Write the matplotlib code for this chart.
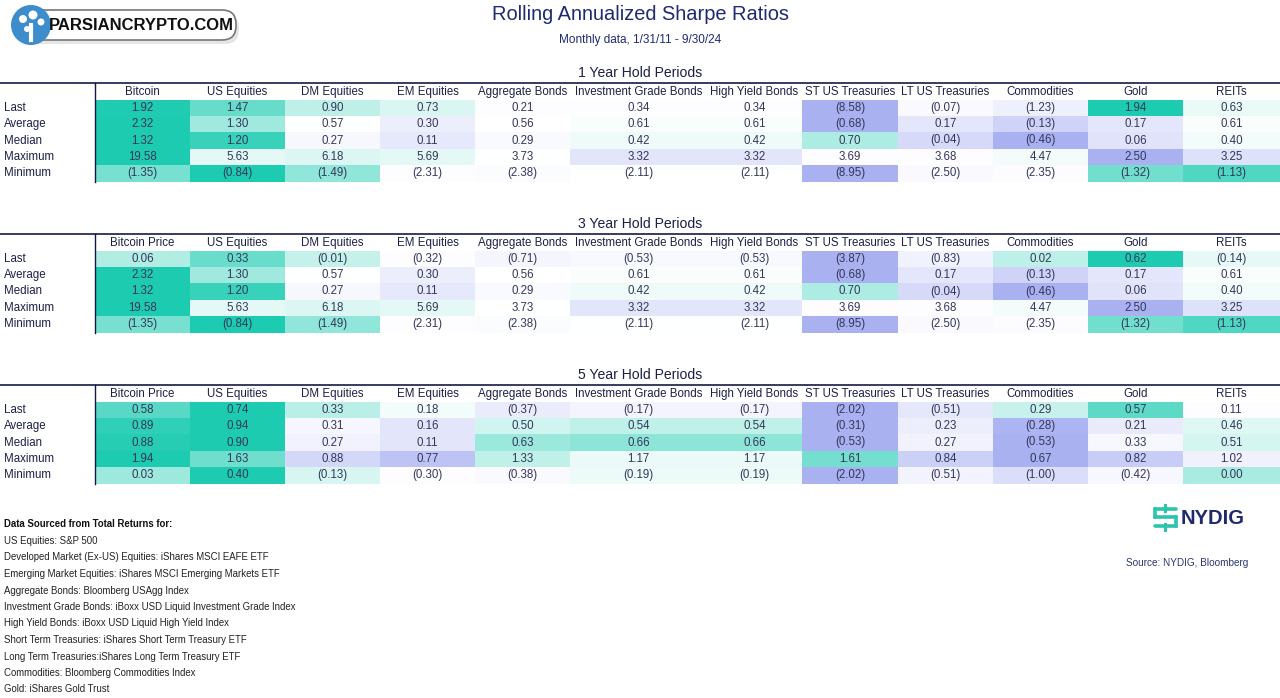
#!/usr/bin/env python3

import numpy as np
import matplotlib
matplotlib.use('Agg')
import matplotlib.pyplot as plt
from matplotlib.colors import LinearSegmentedColormap, TwoSlopeNorm
from matplotlib.patches import FancyBboxPatch, Circle

plt.rcParams['font.family'] = ['Liberation Sans', 'DejaVu Sans']

# ---- data ----
assets_1y = ['Bitcoin', 'US Equities', 'DM Equities', 'EM Equities', 'Aggregate Bonds',
             'Investment Grade Bonds', 'High Yield Bonds', 'ST US Treasuries',
             'LT US Treasuries', 'Commodities', 'Gold', 'REITs']
assets_3y5y = ['Bitcoin Price'] + assets_1y[1:]
stats = ['Last', 'Average', 'Median', 'Maximum', 'Minimum']

sharpe_1y = [
  [1.92, 1.47, 0.90, 0.73, 0.21, 0.34, 0.34, -8.58, -0.07, -1.23, 1.94, 0.63],
  [2.32, 1.30, 0.57, 0.30, 0.56, 0.61, 0.61, -0.68, 0.17, -0.13, 0.17, 0.61],
  [1.32, 1.20, 0.27, 0.11, 0.29, 0.42, 0.42, 0.70, -0.04, -0.46, 0.06, 0.40],
  [19.58, 5.63, 6.18, 5.69, 3.73, 3.32, 3.32, 3.69, 3.68, 4.47, 2.50, 3.25],
  [-1.35, -0.84, -1.49, -2.31, -2.38, -2.11, -2.11, -8.95, -2.50, -2.35, -1.32, -1.13],
]
sharpe_3y = [
  [0.06, 0.33, -0.01, -0.32, -0.71, -0.53, -0.53, -3.87, -0.83, 0.02, 0.62, -0.14],
  [2.32, 1.30, 0.57, 0.30, 0.56, 0.61, 0.61, -0.68, 0.17, -0.13, 0.17, 0.61],
  [1.32, 1.20, 0.27, 0.11, 0.29, 0.42, 0.42, 0.70, -0.04, -0.46, 0.06, 0.40],
  [19.58, 5.63, 6.18, 5.69, 3.73, 3.32, 3.32, 3.69, 3.68, 4.47, 2.50, 3.25],
  [-1.35, -0.84, -1.49, -2.31, -2.38, -2.11, -2.11, -8.95, -2.50, -2.35, -1.32, -1.13],
]
sharpe_5y = [
  [0.58, 0.74, 0.33, 0.18, -0.37, -0.17, -0.17, -2.02, -0.51, 0.29, 0.57, 0.11],
  [0.89, 0.94, 0.31, 0.16, 0.50, 0.54, 0.54, -0.31, 0.23, -0.28, 0.21, 0.46],
  [0.88, 0.90, 0.27, 0.11, 0.63, 0.66, 0.66, -0.53, 0.27, -0.53, 0.33, 0.51],
  [1.94, 1.63, 0.88, 0.77, 1.33, 1.17, 1.17, 1.61, 0.84, 0.67, 0.82, 1.02],
  [0.03, 0.40, -0.13, -0.30, -0.38, -0.19, -0.19, -2.02, -0.51, -1.00, -0.42, 0.00],
]

sources = [
  'US Equities: S&P 500',
  'Developed Market (Ex-US) Equities: iShares MSCI EAFE ETF',
  'Emerging Market Equities: iShares MSCI Emerging Markets ETF',
  'Aggregate Bonds: Bloomberg USAgg Index',
  'Investment Grade Bonds: iBoxx USD Liquid Investment Grade Index',
  'High Yield Bonds: iBoxx USD Liquid High Yield Index',
  'Short Term Treasuries: iShares Short Term Treasury ETF',
  'Long Term Treasuries:iShares Long Term Treasury ETF',
  'Commodities: Bloomberg Commodities Index',
  'Gold: iShares Gold Trust',
]

# ---- layout (pixels) ----
W, H = 1280, 698
col_edges = np.array([95, 190, 285, 380, 475, 570, 707, 802, 898, 993, 1088, 1183, 1280])
col_mid = (col_edges[:-1] + col_edges[1:]) / 2
header_h = 16.5
row_h = 16.4
navy = '#1f2a70'
dark = '#1c2046'
val_color = '#34375a'

cmap = LinearSegmentedColormap.from_list('sharpe', ['#a9b1f1', '#ffffff', '#1dcbb0'])

fig = plt.figure(figsize=(W / 100, H / 100), dpi=100)
ax = fig.add_axes([0, 0, 1, 1])
ax.set_xlim(0, W)
ax.set_ylim(H, 0)
ax.axis('off')


def fmt(v):
  return f'({abs(v):.2f})' if v < 0 else f'{v:.2f}'


def draw_table(top, title, assets, values):
  vals = np.array(values)
  # per-row 3-colour scale: min -> purple, median -> white, max -> teal
  scaled = np.zeros_like(vals)
  for i, row in enumerate(vals):
    norm = TwoSlopeNorm(vcenter=np.median(row), vmin=row.min(), vmax=row.max())
    scaled[i] = norm(row)
  row_edges = top + header_h + row_h * np.arange(len(stats) + 1)
  ax.pcolormesh(col_edges, row_edges, scaled, cmap=cmap, vmin=0, vmax=1, shading='flat')

  ax.text(W / 2, top - 10, title, ha='center', va='center', fontsize=10.1, color=dark)
  ax.plot([0, W], [top, top], color='#141a45', lw=1.2)
  ax.plot([col_edges[0], col_edges[0]], [top, row_edges[-1]], color='#141a45', lw=1.0)

  for x, name in zip(col_mid, assets):
    ax.text(x, top + header_h / 2 + 1, name, ha='center', va='center', fontsize=8.3, color=dark)
  for i, label in enumerate(stats):
    yc = (row_edges[i] + row_edges[i + 1]) / 2
    ax.text(4, yc, label, ha='left', va='center', fontsize=8.3, color=dark)
    for x, v in zip(col_mid, vals[i]):
      ax.text(x, yc, fmt(v), ha='center', va='center', fontsize=8.3, color=val_color)


# titles
ax.text(640, 15, 'Rolling Annualized Sharpe Ratios', ha='center', va='center', fontsize=14.4, color=navy)
ax.text(640, 40, 'Monthly data, 1/31/11 - 9/30/24', ha='center', va='center', fontsize=8.5, color=navy)

draw_table(83, '1 Year Hold Periods', assets_1y, sharpe_1y)
draw_table(234, '3 Year Hold Periods', assets_3y5y, sharpe_3y)
draw_table(385, '5 Year Hold Periods', assets_3y5y, sharpe_5y)

# footer notes
ax.text(4, 524, 'Data Sourced from Total Returns for:', ha='left', va='center', fontsize=6.9,
        fontweight='bold', color='#111111')
for i, s in enumerate(sources):
  ax.text(4, 541 + 16.5 * i, s, ha='left', va='center', fontsize=6.9, color='#222222')

ax.text(1248, 563, 'Source: NYDIG, Bloomberg', ha='right', va='center', fontsize=7.2, color='#2b3570')

# NYDIG mark
teal = '#2cc4ad'
ax.plot([1155, 1176], [509, 509], color=teal, lw=2.6, solid_capstyle='round')
ax.plot([1155, 1176], [517, 517], color=teal, lw=2.6, solid_capstyle='round')
ax.plot([1155, 1176], [526, 526], color=teal, lw=2.6, solid_capstyle='round')
ax.plot([1165, 1165], [505, 511], color=teal, lw=2.2)
ax.plot([1165, 1165], [524, 530], color=teal, lw=2.2)
ax.plot([1155, 1155], [509, 517], color=teal, lw=2.6)
ax.plot([1176, 1176], [517, 526], color=teal, lw=2.6)
ax.text(1181, 518, 'NYDIG', ha='left', va='center', fontsize=14.5, fontweight='bold', color='#1f2a6e')

# watermark logo
box = FancyBboxPatch((22, 10), 214, 30, boxstyle='round,pad=0,rounding_size=14',
                     fc='white', ec='#777777', lw=1.2, zorder=3)
ax.add_patch(box)
ax.add_patch(FancyBboxPatch((25, 14), 214, 30, boxstyle='round,pad=0,rounding_size=14',
                            fc='#cccccc', ec='none', alpha=0.5, zorder=2))
ax.add_patch(Circle((31, 25), 20, fc='#3d8ccb', ec='none', zorder=4))
for cx, cy, r in [(23, 19, 4), (33, 15, 4.5), (41, 22, 3.5), (27, 29, 3)]:
  ax.add_patch(Circle((cx, cy), r, fc='white', ec='none', zorder=5))
ax.plot([31, 31], [25, 40], color='white', lw=3, zorder=5)
ax.text(141, 25, 'PARSIANCRYPTO.COM', ha='center', va='center', fontsize=12, fontweight='bold',
        color='#111111', zorder=6)

fig.savefig('out.png', dpi=100)
